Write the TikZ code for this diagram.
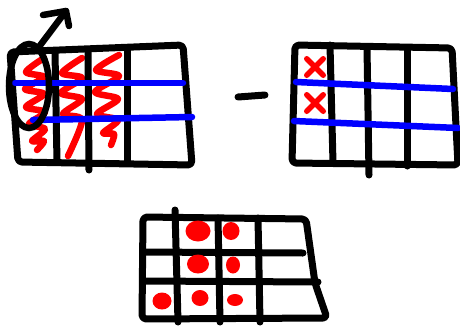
\documentclass[tikz,border=0pt]{standalone}
\usepackage{xcolor}
\usetikzlibrary{shapes.geometric,shapes.misc}
\definecolor{inkred}{HTML}{FF0000}
\definecolor{inkblue}{HTML}{0000FF}
\tikzset{
  gridline/.style={
    draw=black,
    line width=7pt,
    line cap=round,
    line join=round
  },
  rowline/.style={
    draw=inkblue,
    line width=6.5pt,
    line cap=round
  },
  scribble/.style={
    draw=inkred,
    line width=6.5pt,
    line cap=round,
    line join=round
  },
  reddot/.style={
    ellipse,
    fill=inkred,
    inner sep=0pt
  },
  redcross/.style={
    cross out,
    draw=inkred,
    line width=5.5pt,
    line cap=round,
    minimum size=11pt
  },
  pointer/.style={
    line width=6.5pt,
    line cap=round,
    line join=round,
    draw=black
  }
}
\begin{document}
\begin{tikzpicture}[x=1pt,y=-1pt]
\useasboundingbox (0,0) rectangle (460,327);

% left table
\draw[scribble] plot[smooth,tension=0.5] coordinates {(44,58) (26,72) (44,77) (25,89) (44,94) (26,107) (45,112) (29,124) (45,129) (32,141) (44,141) (37,150)};
\draw[scribble] plot[smooth,tension=0.5] coordinates {(82,58) (62,73) (82,78) (61,93) (82,99) (63,114) (82,120) (68,156)};
\draw[scribble] plot[smooth,tension=0.5] coordinates {(119,55) (96,70) (119,76) (95,92) (118,99) (97,114) (118,120) (103,133) (114,134) (111,145)};
\draw[gridline, rounded corners=4pt] (10,52) -- (183,45) -- (192,165) -- (18,162) -- cycle;
\draw[gridline] (55,52) -- (57,162);
\draw[gridline] (88,50) -- (89,170);
\draw[gridline] (127,49) -- (127,163);
\draw[rowline] (15,83) -- (183,83);
\draw[rowline] (33,120) -- (192,117);
\node[ellipse, draw=black, line width=6.5pt, minimum width=40pt, minimum height=84pt] (sel) at (29,86) {};
\coordinate (tip) at (66,11);
\draw[pointer] (sel.75) -- (tip);
\draw[pointer] ([shift={(-23,4)}]tip) -- (tip) -- ([shift={(3,15)}]tip);

% minus
\draw[gridline] (238,97) -- (265,95);

% right table
\draw[gridline, rounded corners=4pt] (295,45) -- (452,48) -- (458,165) -- (292,163) -- cycle;
\draw[gridline] (330,45) -- (333,163);
\draw[gridline] (367,47) -- (369,175);
\draw[gridline] (407,48) -- (407,166);
\draw[rowline] (296,82) -- (453,89);
\draw[rowline] (294,121) -- (458,128);
\node[redcross] (xa) at (315,67) {};
\node[redcross] (xb) at (315,103) {};

% bottom table
\draw[gridline, rounded corners=4pt] (143,217) -- (306,219) -- (315,283) -- (327,318) -- (142,319) -- cycle;
\draw[gridline] (143,252) -- (303,253);
\draw[gridline] (143,281) -- (318,282);
\draw[gridline] (175,210) -- (178,322);
\draw[gridline] (218,218) -- (220,322);
\draw[gridline] (258,218) -- (260,322);
\node[reddot, minimum width=25pt, minimum height=21pt] (d11) at (198,231) {};
\node[reddot, minimum width=17pt, minimum height=18pt] (d12) at (231,231) {};
\node[reddot, minimum width=22pt, minimum height=19pt] (d21) at (198,264) {};
\node[reddot, minimum width=14pt, minimum height=17pt] (d22) at (233,265) {};
\node[reddot, minimum width=19pt, minimum height=17pt] (d31) at (162,301) {};
\node[reddot, minimum width=17pt, minimum height=16pt] (d32) at (200,298) {};
\node[reddot, minimum width=16pt, minimum height=12pt] (d33) at (235,300) {};

\end{tikzpicture}
\end{document}
